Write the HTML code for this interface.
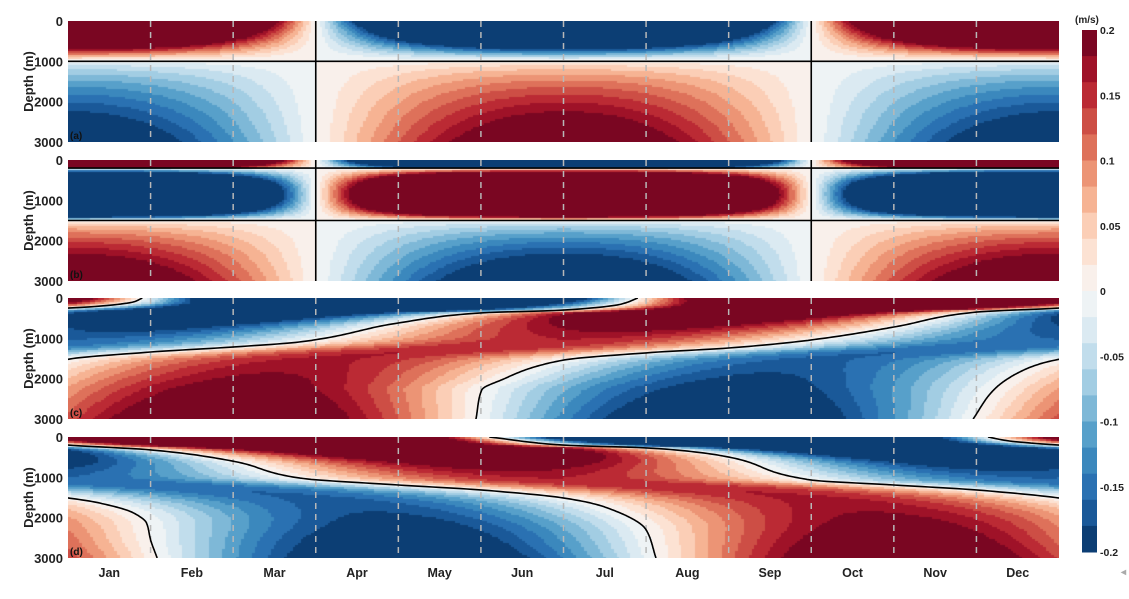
<!DOCTYPE html>
<html><head><meta charset="utf-8">
<style>
html,body{margin:0;padding:0;background:#fff;}
#wrap{position:relative;width:1129px;height:599px;overflow:hidden;font-family:"Liberation Sans",sans-serif;}
canvas{position:absolute;left:68px;}
svg{position:absolute;left:0;top:0;}
</style></head><body>
<div id="wrap">
<canvas id="c0" width="991" height="121" style="top:21px"></canvas>
<canvas id="c1" width="991" height="121" style="top:160px"></canvas>
<canvas id="c2" width="991" height="121" style="top:298px"></canvas>
<canvas id="c3" width="991" height="121" style="top:437px"></canvas>
<svg id="ov" width="1129" height="599" xmlns="http://www.w3.org/2000/svg" font-family="Liberation Sans, sans-serif" font-weight="bold"></svg>
</div>
<script>
const anchors=["#053061","#2166ac","#4393c3","#92c5de","#d1e5f0","#f7f7f7","#fddbc7","#f4a582","#d6604d","#b2182b","#67001f"];
function hex(h){return [parseInt(h.slice(1,3),16),parseInt(h.slice(3,5),16),parseInt(h.slice(5,7),16)];}
const A=anchors.map(hex);
function cmap(v){let f=(v+0.2)/0.4*10;if(f<0)f=0;if(f>10)f=10;let i=Math.min(9,Math.floor(f));let r=f-i;return A[i].map((c,k)=>Math.round(c+(A[i+1][k]-c)*r));}
const bins=[];for(let i=0;i<20;i++){bins.push(cmap(-0.2+0.02*i+0.01));}
function col(v){let i=Math.floor((v+0.2)/0.02);if(i<0)i=0;if(i>19)i=19;return bins[i];}
const W=991,H=121,MW=W/12;
// PCHIP
function mk(arr){const n=arr.length,x=arr.map(p=>p[0]),y=arr.map(p=>p[1]);const h=[],d=[];for(let i=0;i<n-1;i++){h.push(x[i+1]-x[i]);d.push((y[i+1]-y[i])/h[i]);}
 const m=new Array(n);m[0]=d[0];m[n-1]=d[n-2];for(let i=1;i<n-1;i++){if(d[i-1]*d[i]<=0)m[i]=0;else{let w1=2*h[i]+h[i-1],w2=h[i]+2*h[i-1];m[i]=(w1+w2)/(w1/d[i-1]+w2/d[i]);}}
 return function(z){if(z<=x[0])return y[0];if(z>=x[n-1])return y[n-1];let i=0;while(z>x[i+1])i++;let t=(z-x[i])/h[i],t2=t*t,t3=t2*t;return (2*t3-3*t2+1)*y[i]+(t3-2*t2+t)*h[i]*m[i]+(-2*t3+3*t2)*y[i+1]+(t3-t2)*h[i]*m[i+1];};}
function amp(z){return 0.5*Math.exp(-z/400)+0.12+0.13*Math.min(1,Math.max(0,(z-1000)/2000));}
function wave(fA,fB){return function(t,z){let a=fA(z),b=fB(z);while(b<=a)b+=12;while(b>a+12)b-=12;let tt=t;while(tt<a)tt+=12;while(tt>=a+12)tt-=12;let ph=tt<b?Math.PI*(tt-a)/(b-a):Math.PI+Math.PI*(tt-b)/(a+12-b);return amp(z)*Math.sin(ph);};}
const Ac=mk([[0,6.9],[150,6.7],[300,6.0],[370,5.0],[620,4.0],[1090,2.8],[1215,2.0],[1340,1.0],[1520,0],[1860,-0.5],[2300,-0.8],[3000,-1.04]]);
const Bc=mk([[0,12.9],[100,12.79],[200,12.39],[250,12.0],[350,11],[720,10],[1040,9],[1240,8],[1360,7],[1540,6],[2030,5.25],[2280,5.01],[3000,4.94]]);
const Pd=mk([[0,-0.86],[100,-0.6],[200,0],[320,1],[600,2],[1017,2.8],[1190,4],[1314,5],[1512,6],[1735,6.5],[2300,7.0],[3000,7.12]]);
const Qd=mk([[0,5.1],[200,6],[270,7],[350,7.5],[496,8],[1066,9],[1190,10],[1314,11],[1512,12],[1640,12.39],[1880,12.79],[2130,12.95],[2550,13.0],[3000,13.08]]);
const fa=function(t,z){let c=Math.cos(2*Math.PI*t/12);if(z<1000)return 0.8*c*Math.pow(1-z/1000,1.2);return -0.24*c*Math.pow((z-1000)/2000,0.6);};
const fb=function(t,z){let c=Math.cos(2*Math.PI*t/12);if(z<200)return 1.0*c*(1-z/200*0.7);if(z<1500)return -0.9*c*Math.sin(Math.PI*(z-200)/1300);return 0.26*c*Math.pow((z-1500)/1500,0.6);};
const funcs=[fa,fb,wave(Ac,Bc),wave(Pd,Qd)];
funcs.forEach((f,k)=>{const cv=document.getElementById('c'+k);const ctx=cv.getContext('2d');const img=ctx.createImageData(W,H);
 for(let x=0;x<W;x++){let xq=Math.floor(x/2.7)*2.7+1.35;let t=xq/MW;for(let y=0;y<H;y++){let yq=Math.floor(y/2)*2+1;let z=yq/H*3000;let c=col(f(t,z));let p=(y*W+x)*4;img.data[p]=c[0];img.data[p+1]=c[1];img.data[p+2]=c[2];img.data[p+3]=255;}}
 ctx.putImageData(img,0,0);});
const tops=[21,160,298,437];
let s='';
const X=t=>68+t*MW;
tops.forEach((T,k)=>{
 for(let m=1;m<12;m++){let x=X(m);s+=`<line x1="${x}" y1="${T}" x2="${x}" y2="${T+H}" stroke="#b8b8b8" stroke-width="1.5" stroke-dasharray="6,5"/>`;}
 ['0','1000','2000','3000'].forEach((l,i)=>{s+=`<text x="63" y="${T+i*H/3+5}" font-size="13" text-anchor="end" fill="#222">${l}</text>`;});
 s+=`<text transform="translate(33,${T+H/2}) rotate(-90)" font-size="13" text-anchor="middle" fill="#222">Depth (m)</text>`;
 s+=`<text x="70" y="${T+H-3}" font-size="10" fill="#111">(${'abcd'[k]})</text>`;
});
function hl(T,z){let y=T+z/3000*H;return `<line x1="68" y1="${y}" x2="1059" y2="${y}" stroke="#000" stroke-width="1.6"/>`;}
[0,1].forEach(k=>{let T=tops[k];[3,9].forEach(m=>{s+=`<line x1="${X(m)}" y1="${T}" x2="${X(m)}" y2="${T+H}" stroke="#000" stroke-width="1.6"/>`;});});
s+=hl(21,1000)+hl(160,200)+hl(160,1500);
function curve(f,T){let out='';[-12,0,12].forEach(off=>{let pts=[];for(let z=0;z<=3000;z+=10){pts.push((X(f(z)+off)).toFixed(1)+','+(T+z/3000*H).toFixed(1));}out+=`<polyline points="${pts.join(' ')}" fill="none" stroke="#000" stroke-width="1.6"/>`;});return out;}
s+=`<defs><clipPath id="cp2"><rect x="68" y="298" width="991" height="121"/></clipPath><clipPath id="cp3"><rect x="68" y="437" width="991" height="121"/></clipPath></defs>`;
s+=`<g clip-path="url(#cp2)">${curve(Ac,298)}${curve(Bc,298)}</g>`;
s+=`<g clip-path="url(#cp3)">${curve(Pd,437)}${curve(Qd,437)}</g>`;
['Jan','Feb','Mar','Apr','May','Jun','Jul','Aug','Sep','Oct','Nov','Dec'].forEach((m,i)=>{s+=`<text x="${X(i+0.5)}" y="577" font-size="12.5" text-anchor="middle" fill="#222">${m}</text>`;});
const cy0=30,cy1=552,ch=(cy1-cy0)/20;
for(let i=0;i<20;i++){let c=bins[19-i];s+=`<rect x="1082" y="${(cy0+i*ch).toFixed(2)}" width="15" height="${(ch+0.5).toFixed(2)}" fill="rgb(${c.join(',')})"/>`;}
['0.2','0.15','0.1','0.05','0','-0.05','-0.1','-0.15','-0.2'].forEach((l,i)=>{s+=`<text x="1100" y="${cy0+i*(cy1-cy0)/8+4}" font-size="10.5" fill="#222">${l}</text>`;});
s+=`<text x="1075" y="23" font-size="10" fill="#222">(m/s)</text>`;
s+=`<text x="1121" y="575" font-size="10" fill="#aaa">◂</text>`;
document.getElementById('ov').innerHTML=s;
</script>
</body></html>
